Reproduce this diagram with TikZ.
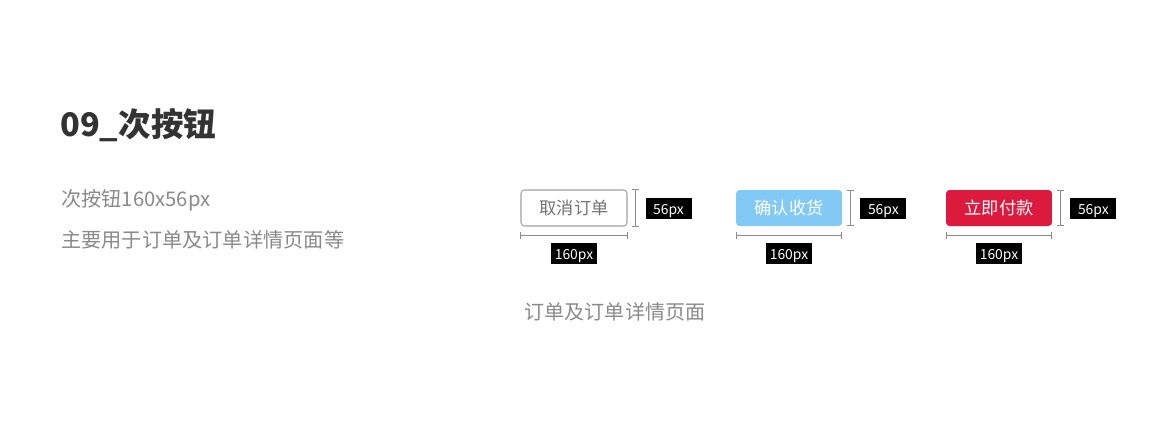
\documentclass[tikz,border=0pt]{standalone}
\usepackage{fontspec}
\setmainfont{Noto Sans CJK SC}
\usetikzlibrary{arrows.meta}
\definecolor{titlegray}{HTML}{333333}
\definecolor{textgray}{HTML}{8A8A8A}
\definecolor{linegray}{HTML}{A0A0A0}
\definecolor{dimgray}{HTML}{8C8C8C}
\definecolor{skyblue}{HTML}{82C9F5}
\definecolor{crimson}{HTML}{DC1A3E}
\tikzset{
    btn/.style={minimum width=2.12cm,minimum height=0.72cm,rounded corners=2pt,inner sep=0pt,
        font=\fontsize{9.8}{11}\selectfont},
    btnline/.style={draw=linegray,line width=0.6pt,text=gray!90!black},
    btnblue/.style={fill=skyblue,text=white},
    btnred/.style={fill=crimson,text=white},
    dimline/.style={draw=dimgray,line width=0.5pt,{Bar[width=4pt]}-{Bar[width=4pt]}},
    pxtag/.style={fill=black,text=white,minimum width=0.92cm,minimum height=0.42cm,inner sep=0pt,
        text height=0.72em,text depth=0pt,font=\fontsize{7.9}{8}\selectfont}
}
\begin{document}
\begin{tikzpicture}[x=0.02cm,y=-0.02cm]
    \fill[white] (0,0) rectangle (1174,434);
    \node[anchor=west,inner sep=0pt,text=titlegray,font=\fontsize{18.5}{20}\selectfont\bfseries] (title) at (60,125) {09\_次按钮};
    \node[anchor=west,inner sep=0pt,text=textgray,font=\fontsize{11.5}{13}\selectfont] (size) at (61,200) {次按钮160x56px};
    \node[anchor=west,inner sep=0pt,text=textgray,font=\fontsize{11.5}{13}\selectfont] (use) at (61,240) {主要用于订单及订单详情页面等};
    \foreach \i/\x/\txt/\look in {1/574/取消订单/btnline, 2/789/确认收货/btnblue, 3/999/立即付款/btnred} {
        \node[btn,\look] (b\i) at (\x,208) {\txt};
        \draw[dimline] ([xshift=0.16cm]b\i.north east) -- ([xshift=0.16cm]b\i.south east);
        \draw[dimline] ([yshift=-0.18cm]b\i.south west) -- ([yshift=-0.18cm]b\i.south east);
        \node[pxtag] (h\i) at ([xshift=0.82cm]b\i.east) {56px};
        \node[pxtag] (w\i) at ([yshift=-0.54cm]b\i.south) {160px};
    }
    \node[text=textgray,font=\fontsize{11.4}{13}\selectfont] (page) at (615,312) {订单及订单详情页面};
\end{tikzpicture}
\end{document}
